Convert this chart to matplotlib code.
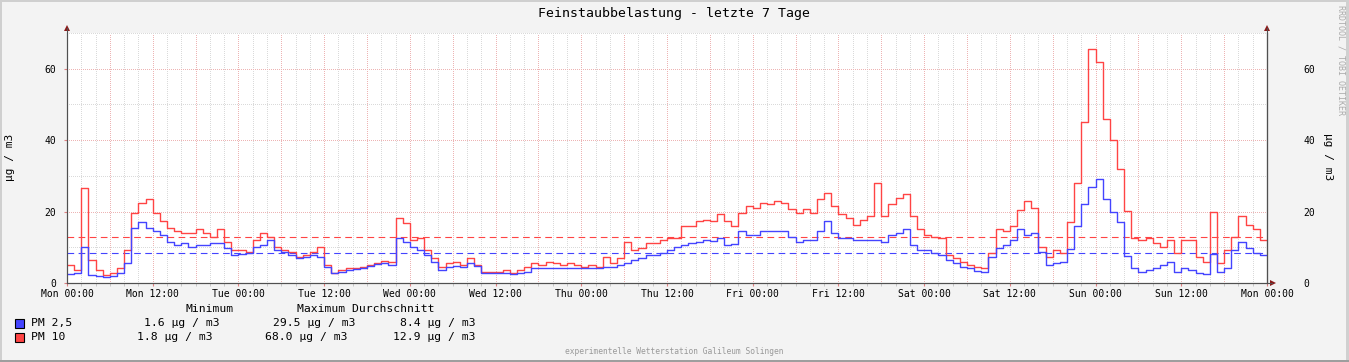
import numpy as np
import matplotlib
matplotlib.use("Agg")
import matplotlib.pyplot as plt
from matplotlib.patches import Rectangle, Polygon

# ---------------- data (hourly values, Mon 00:00 -> next Mon 00:00) ----------------
pm10 = [5.0, 3.7, 26.7, 6.5, 3.7, 2.3, 2.7, 4.1, 9.3, 19.5, 22.5, 23.5,
        19.5, 17.5, 15.5, 14.5, 14.0, 14.0, 15.0, 14.0, 13.0, 15.0, 11.6, 9.3,
        9.3, 8.8, 12.1, 14.0, 13.0, 10.2, 9.3, 8.8, 7.4, 7.9, 8.8, 10.2,
        5.0, 2.9, 3.7, 4.1, 4.1, 4.6, 5.0, 5.5, 6.3, 6.0, 18.2, 16.8,
        12.0, 12.6, 9.3, 6.9, 4.6, 5.5, 6.0, 5.0, 6.9, 5.0, 3.2, 3.2,
        3.2, 3.7, 2.9, 3.7, 4.6, 5.5, 5.0, 6.0, 5.5, 5.0, 5.5, 5.0,
        4.6, 5.0, 4.6, 7.4, 5.5, 6.9, 11.5, 9.3, 9.8, 11.2, 11.2, 12.1,
        12.6, 12.6, 15.9, 15.9, 17.3, 17.7, 17.3, 19.2, 17.3, 15.9, 19.6, 21.5,
        21.0, 22.4, 22.0, 22.9, 22.4, 20.6, 19.6, 20.6, 19.6, 23.4, 25.3, 21.5,
        19.2, 18.2, 16.3, 17.7, 18.7, 28.0, 18.7, 22.0, 23.8, 24.8, 18.7, 15.0,
        13.5, 13.0, 12.6, 7.9, 6.9, 6.0, 5.0, 4.6, 4.1, 8.4, 15.0, 14.5,
        15.9, 20.5, 23.0, 21.0, 10.2, 7.4, 9.3, 8.4, 17.0, 28.0, 45.0, 65.5,
        62.0, 46.0, 40.0, 32.0, 20.1, 12.6, 12.1, 12.6, 11.2, 10.2, 12.1, 8.4,
        12.1, 12.1, 7.4, 6.0, 20.0, 5.5, 9.3, 13.0, 18.7, 16.3, 15.0, 12.1]

pm25 = [2.5, 2.7, 10.2, 2.3, 2.0, 1.8, 2.0, 2.7, 5.5, 15.5, 17.0, 15.5,
        14.5, 13.5, 11.6, 10.7, 11.2, 10.2, 10.7, 10.7, 11.2, 11.2, 9.8, 7.9,
        8.2, 8.4, 10.2, 10.7, 12.1, 9.3, 8.8, 7.9, 6.9, 7.2, 7.9, 7.4,
        4.6, 2.7, 3.2, 3.7, 3.8, 4.1, 4.8, 5.3, 5.5, 5.0, 12.6, 11.6,
        10.0, 9.3, 7.9, 6.0, 3.7, 4.6, 4.8, 4.6, 5.5, 4.8, 2.9, 2.7,
        2.9, 2.7, 2.5, 2.9, 3.2, 4.1, 4.1, 4.1, 4.1, 4.1, 4.1, 4.1,
        4.1, 4.1, 4.1, 4.6, 4.6, 5.0, 5.5, 6.5, 6.9, 7.9, 7.9, 8.4,
        9.3, 10.2, 10.7, 11.2, 11.6, 12.1, 11.8, 12.6, 10.7, 10.9, 14.5, 13.5,
        13.5, 14.5, 14.5, 14.5, 14.5, 13.0, 11.6, 12.1, 12.1, 14.5, 17.5, 14.0,
        12.6, 12.6, 12.1, 12.1, 12.1, 12.1, 11.6, 13.5, 14.0, 15.0, 10.7, 9.3,
        9.3, 8.4, 7.9, 6.5, 5.5, 4.6, 4.1, 3.5, 3.2, 7.4, 9.8, 10.7,
        12.1, 15.0, 13.5, 14.0, 8.8, 5.0, 5.5, 6.0, 9.5, 16.0, 22.0, 27.0,
        29.0, 23.4, 20.0, 17.0, 7.5, 4.1, 3.2, 3.7, 4.1, 5.0, 6.0, 3.2,
        4.1, 3.7, 2.7, 2.4, 8.0, 3.2, 4.1, 9.3, 11.6, 9.8, 8.4, 7.9]

avg_pm25 = 8.4
avg_pm10 = 12.9

day_names = ["Mon", "Tue", "Wed", "Thu", "Fri", "Sat", "Sun", "Mon"]
series_names = ["PM 2,5", "PM 10"]
stat_headers = ["Minimum", "Maximum Durchschnitt"]
stat_rows = [["1.6 µg / m3", "29.5 µg / m3", "8.4 µg / m3"],
             ["1.8 µg / m3", "68.0 µg / m3", "12.9 µg / m3"]]

# ---------------- styling ----------------
W, H = 1349, 362
RED = "#FF4444"
BLUE = "#4444FF"
MONO = "DejaVu Sans Mono"
plt.rcParams["font.family"] = [MONO, "DejaVu Sans"]

fig = plt.figure(figsize=(W / 100, H / 100), dpi=100)
fig.patch.set_facecolor("#F3F3F3")


def fx(x):
    return x / W


def fy(y):
    return 1 - y / H


# frame shading
fig.add_artist(Rectangle((0, fy(2)), 1, 2 / H, transform=fig.transFigure, color="#CFCFCF", lw=0))
fig.add_artist(Rectangle((0, 0), 2 / W, 1, transform=fig.transFigure, color="#CFCFCF", lw=0))
fig.add_artist(Rectangle((fx(W - 3), 0), 3 / W, 1, transform=fig.transFigure, color="#D0D0D0", lw=0))
fig.add_artist(Rectangle((0, 0), 1, 2 / H, transform=fig.transFigure, color="#9E9E9E", lw=0))

x0, x1, y0, y1 = 67, 1267, 283, 33
ax = fig.add_axes([fx(x0), fy(y0), fx(x1) - fx(x0), fy(y1) - fy(y0)])
ax.set_facecolor("white")

hours = np.arange(len(pm10) + 1)
ax.set_xlim(0, 168)
ax.set_ylim(0, 70)

# grid (dotted)
for h in range(2, 168, 2):
    major = (h % 6 == 0)
    ax.axvline(h, color="#EDB4B4" if major else "#DADADA", lw=0.72,
               dashes=(1, 2), zorder=1, antialiased=False)
for v in range(10, 71, 10):
    major = (v % 20 == 0)
    ax.axhline(v, color="#EDB4B4" if major else "#DADADA", lw=0.72,
               dashes=(1, 2), zorder=1, antialiased=False)

# series
ax.plot(hours, pm10 + [pm10[-1]], drawstyle="steps-post", color=RED, lw=1.0, zorder=3)
ax.plot(hours, pm25 + [pm25[-1]], drawstyle="steps-post", color=BLUE, lw=1.0, zorder=4)
ax.axhline(avg_pm10, color=RED, lw=0.8, dashes=(6, 4), zorder=2)
ax.axhline(avg_pm25, color=BLUE, lw=0.8, dashes=(6, 4), zorder=2)

# axes / ticks
ax.spines["top"].set_visible(False)
for s in ["left", "bottom", "right"]:
    ax.spines[s].set_color("#505050")
    ax.spines[s].set_linewidth(0.8)

ticks12 = list(range(0, 169, 12))
tick_labels = [f"{day_names[t // 24]} {'00:00' if t % 24 == 0 else '12:00'}" for t in ticks12]
ax.set_xticks(ticks12)
ax.set_xticklabels(tick_labels, fontsize=7, family=MONO)
ax.set_xticks(list(range(0, 169, 2)), minor=True)
ax.tick_params(axis="x", which="major", length=2, color="#E08080", pad=2)
ax.tick_params(axis="x", which="minor", length=2, color="#C0C0C0")
ax.set_yticks([0, 20, 40, 60])
ax.set_yticklabels(["0", "20", "40", "60"], fontsize=7, family=MONO)
ax.tick_params(axis="y", which="major", length=2, color="#E08080", pad=6)

ax2 = ax.twinx()
ax2.set_ylim(0, 70)
ax2.set_yticks([0, 20, 40, 60])
ax2.set_yticklabels(["0", "20", "40", "60"], fontsize=7, family=MONO)
ax2.tick_params(axis="y", length=0, pad=26)
for s in ["top", "left", "bottom"]:
    ax2.spines[s].set_visible(False)
ax2.spines["right"].set_color("#505050")
ax2.spines["right"].set_linewidth(0.8)

# extended axes lines + arrows
fig.add_artist(plt.Line2D([fx(x0), fx(1272)], [fy(y0), fy(y0)], transform=fig.transFigure,
                          color="#505050", lw=0.8))
fig.add_artist(plt.Line2D([fx(x0), fx(x0)], [fy(y0), fy(28)], transform=fig.transFigure,
                          color="#505050", lw=0.8))
fig.add_artist(plt.Line2D([fx(x1), fx(x1)], [fy(y0), fy(28)], transform=fig.transFigure,
                          color="#505050", lw=0.8))


def tri(pts, color="#8B1A1A"):
    fig.add_artist(Polygon([(fx(a), fy(b)) for a, b in pts], closed=True,
                           transform=fig.transFigure, color=color, lw=0))


tri([(x0 - 3, 31), (x0 + 3, 31), (x0, 25)])
tri([(x1 - 3, 31), (x1 + 3, 31), (x1, 25)])
tri([(1270, y0 - 3), (1270, y0 + 3), (1276, y0)])

# titles / labels
fig.text(fx(674), fy(14), "Feinstaubbelastung - letzte 7 Tage", ha="center", va="center",
         fontsize=9.5, family=MONO, color="#000000")
fig.text(fx(10), fy(157), "µg / m3", rotation=90, ha="center", va="center",
         fontsize=8, family=MONO)
fig.text(fx(1328), fy(157), "µg / m3", rotation=270, ha="center", va="center",
         fontsize=8, family=MONO)
fig.text(fx(1341), fy(60), "RRDTOOL / TOBI OETIKER", rotation=270, ha="center", va="center",
         fontsize=6, family=MONO, color="#ABABAB")
fig.text(fx(674), fy(351), "experimentelle Wetterstation Galileum Solingen", ha="center",
         va="center", fontsize=5.7, family=MONO, color="#999999")

# legend
fig.text(fx(185), fy(309), stat_headers[0], ha="left", va="center", fontsize=8.2, family=MONO)
fig.text(fx(297), fy(309), stat_headers[1], ha="left", va="center", fontsize=8.2, family=MONO)
row_y = [323, 337.5]
row_x = [[144, 273, 400], [137, 265, 393]]
for i, (name, col) in enumerate(zip(series_names, [BLUE, RED])):
    fig.add_artist(Rectangle((fx(15), fy(row_y[i] + 4.5)), 9 / W, 9 / H, transform=fig.transFigure,
                             facecolor=col, edgecolor="black", lw=0.8))
    fig.text(fx(31), fy(row_y[i]), name, ha="left", va="center", fontsize=8.2, family=MONO)
    for j in range(3):
        fig.text(fx(row_x[i][j]), fy(row_y[i]), stat_rows[i][j], ha="left", va="center",
                 fontsize=8.2, family=MONO)

fig.savefig("out.png", dpi=100, facecolor=fig.get_facecolor())
